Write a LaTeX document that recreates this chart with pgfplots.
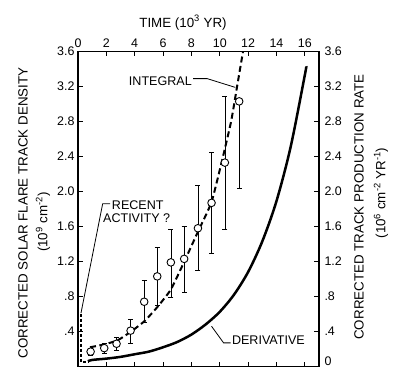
\documentclass[border=0pt]{standalone}
\usepackage{pgfplots}
\pgfplotsset{compat=1.18}
\usepackage{pgfplotstable}
\usepackage{fontspec}
\setmainfont{Liberation Sans}

\pgfplotstableread{
x y ep em
0.89 0.17 0.04 0.04
1.85 0.21 0.06 0.06
2.72 0.26 0.07 0.07
3.71 0.41 0.13 0.14
4.67 0.74 0.24 0.23
5.59 1.03 0.33 0.33
6.55 1.19 0.38 0.40
7.49 1.23 0.37 0.38
8.46 1.58 0.49 0.48
9.42 1.87 0.58 0.58
10.36 2.33 0.76 0.76
11.37 3.03 0.00 0.99
}\obs

\pgfplotstableread{
x y
0.85 0.22
1.8 0.25
2.8 0.30
3.75 0.40
4.7 0.52
5.6 0.68
6.55 0.88
7.5 1.20
8.46 1.54
9.42 1.88
10.23 2.40
10.8 2.80
11.18 3.16
11.64 3.60
}\integral

\pgfplotstableread{
x y
0.7 0.06
1.0 0.075
2.0 0.09
3.0 0.11
4.0 0.14
5.0 0.17
6.0 0.22
7.0 0.28
8.0 0.365
9.0 0.48
10.0 0.625
11.0 0.82
12.0 1.08
13.0 1.43
14.0 1.89
15.0 2.51
16.0 3.33
16.1 3.43
}\deriv

\begin{document}
\begin{tikzpicture}
\path[use as bounding box] (-78bp,-2.5bp) rectangle (318bp,366.5bp);
\pgfplotsset{every axis/.append style={
  at={(0,0)}, anchor=south west, scale only axis,
  width=241bp, height=315bp,
  xmin=0, xmax=17, ymin=0, ymax=3.6,
  tick align=inside, major tick length=5bp,
  axis line style={line width=1.3bp},
  tick style={line width=1bp, black},
  ticklabel style={font=\fontsize{12.5}{14}\selectfont},
  /pgf/number format/assume math mode=true,
}}
\begin{axis}[
  xtick={0,2,4,6,8,10,12,14,16},
  xtick pos=both, xticklabel pos=right,
  ytick={0.4,0.8,1.2,1.6,2.0,2.4,2.8,3.2,3.6},
  yticklabels={.4,.8,1.2,1.6,2.0,2.4,2.8,3.2,3.6},
  ytick pos=both, yticklabel pos=left,
]
\addplot[black, line width=1.4bp, dash pattern=on 3bp off 2bp] coordinates {(0.2,0.6) (0.2,0.05) (0.7,0.05)};
\addplot[black, line width=2bp, dash pattern=on 6bp off 3.5bp, smooth, tension=0.3] table[x=x,y=y] {\integral};
\addplot[black, line width=2.5bp, smooth, tension=0.5] table[x=x,y=y] {\deriv};
\addplot[black, only marks, mark=*, mark size=3.8bp, mark options={fill=white, line width=0.9bp},
  error bars/.cd, y dir=both, y explicit,
  error bar style={line width=0.7bp},
  error mark options={rotate=90, mark size=2.5bp, line width=0.7bp}]
  table[x=x, y=y, y error plus=ep, y error minus=em] {\obs};
% annotations
\draw[line width=0.8bp] (axis cs:8.12,3.29) -- (axis cs:9.11,3.29) -- (axis cs:11.09,3.19);
\node[anchor=center, inner sep=0pt, font=\fontsize{12.6}{14}\selectfont] at (axis cs:5.81,3.26) {INTEGRAL};
\draw[line width=0.8bp] (axis cs:2.26,1.86) -- (axis cs:1.74,1.86) -- (axis cs:0.21,0.61);
\node[anchor=west, inner sep=0pt, font=\fontsize{12.6}{14}\selectfont] at (axis cs:2.38,1.84) {RECENT};
\node[anchor=west, inner sep=0pt, font=\fontsize{12.6}{14}\selectfont] at (axis cs:1.76,1.69) {ACTIVITY ?};
\draw[line width=0.8bp] (axis cs:10.77,0.27) -- (axis cs:10.27,0.27) -- (axis cs:9.42,0.46);
\node[anchor=west, inner sep=0pt, font=\fontsize{12.6}{14}\selectfont] at (axis cs:10.85,0.30) {DERIVATIVE};
\end{axis}
\begin{axis}[
  hide x axis,
  axis y line*=right,
  ytick={0.4,0.8,1.2,1.6,2.0,2.4,2.8,3.2,3.6},
  yticklabels={.4,.8,1.2,1.6,2.0,2.4,2.8,3.2,3.6},
  extra y ticks={0},
  extra y tick labels={0},
  extra y tick style={yticklabel style={anchor=south west, yshift=-3bp}},
  major tick length=0pt,
  yticklabel style={anchor=west, xshift=2bp},
]
\end{axis}
\node[font=\fontsize{13.4}{15}\selectfont] at (105bp,343.8bp) {TIME (10\textsuperscript{3} YR)};
\node[rotate=90, font=\fontsize{13.4}{15}\selectfont] at (-55bp,153.5bp) {CORRECTED SOLAR FLARE TRACK DENSITY};
\node[rotate=90, font=\fontsize{13.4}{15}\selectfont] at (-35bp,144.5bp) {(10\textsuperscript{9} cm\textsuperscript{-2})};
\node[rotate=90, font=\fontsize{13.4}{15}\selectfont] at (281bp,159.5bp) {CORRECTED TRACK PRODUCTION RATE};
\node[rotate=90, font=\fontsize{13.4}{15}\selectfont] at (303bp,173.5bp) {(10\textsuperscript{6} cm\textsuperscript{-2} YR\textsuperscript{-1})};
\end{tikzpicture}
\end{document}
